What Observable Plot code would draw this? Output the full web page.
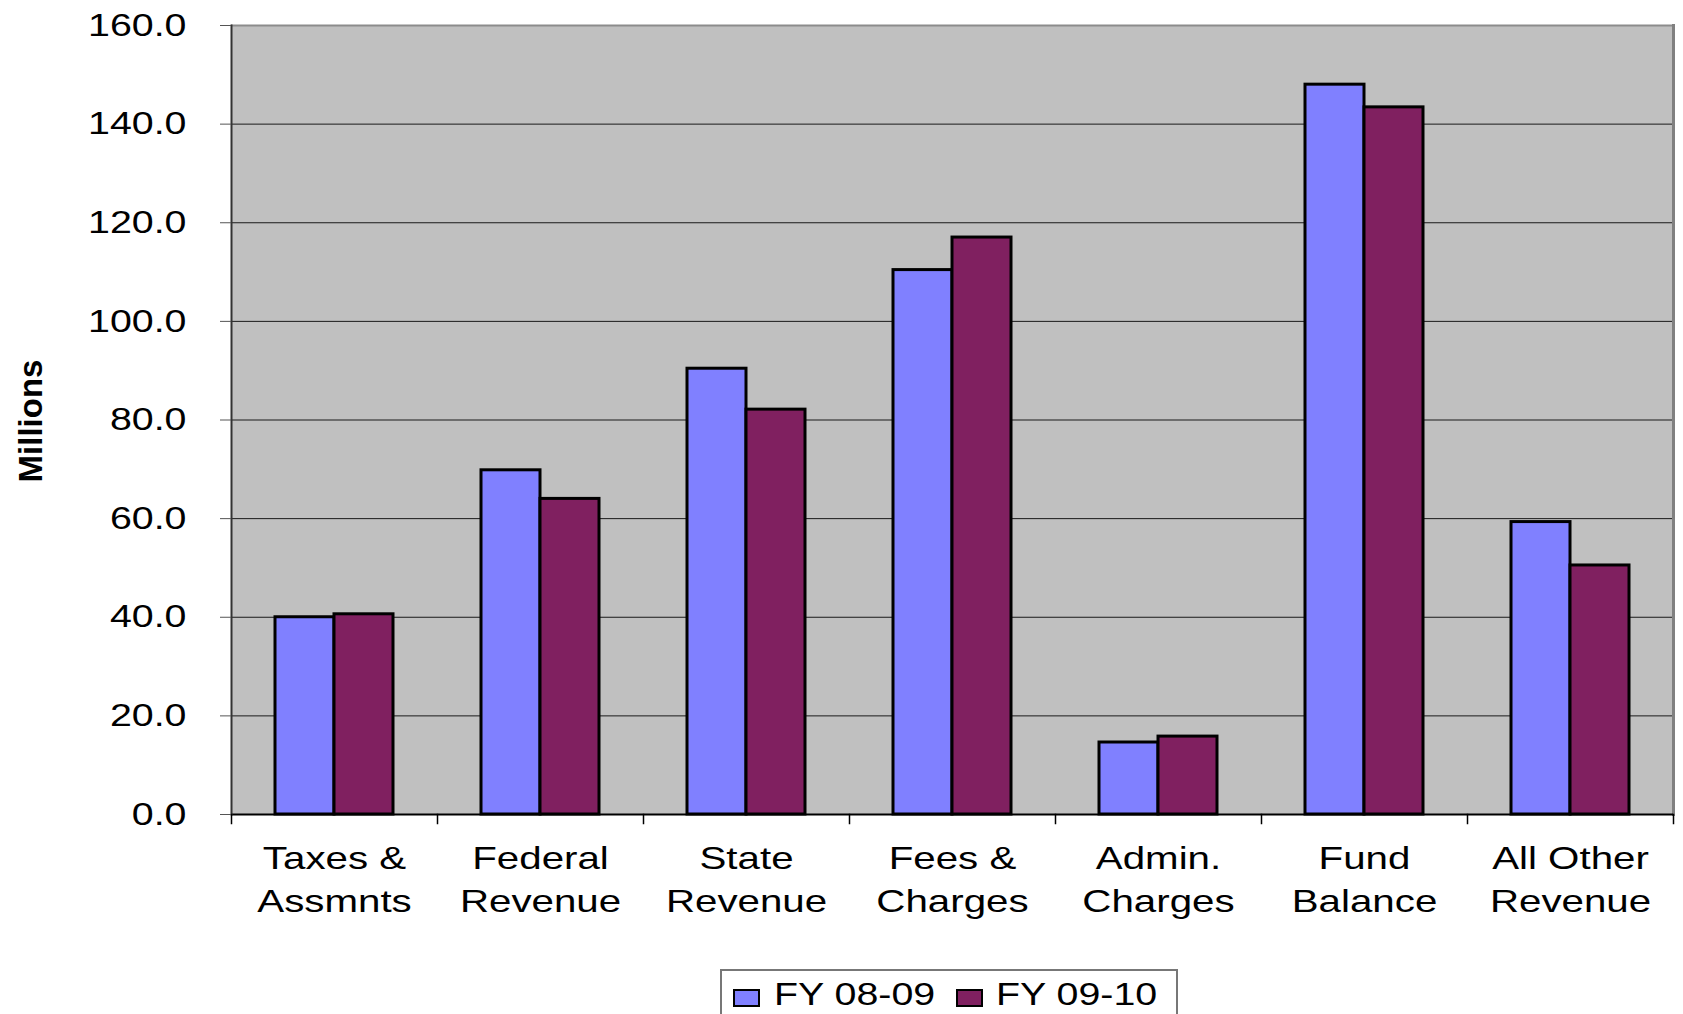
<!DOCTYPE html>
<html><head><meta charset="utf-8">
<script src="https://cdn.jsdelivr.net/npm/d3@7"></script>
<script src="https://cdn.jsdelivr.net/npm/@observablehq/plot@0.6"></script>
<style>
html,body{margin:0;padding:0;background:#fff;overflow:hidden;width:1683px;height:1014px}
#wrap{position:relative;width:1683px;height:1014px;font-family:"Liberation Sans",Arial,sans-serif;color:#000}
#wrap svg{position:absolute;left:0;top:0}
#ytitle{position:absolute;left:29.5px;top:421px;transform:translate(-50%,-50%) rotate(-90deg);font-weight:bold;font-size:33px;line-height:1;white-space:nowrap}
#legend{position:absolute;left:720px;top:969px;width:454px;height:80px;border:2px solid #777;background:#fff}
#legend .sw{position:absolute;top:18px;width:23px;height:14px;border:2px solid #000}
#legend .lb{position:absolute;top:8px;font-size:31px;line-height:31px;white-space:nowrap;transform:scaleX(1.27);transform-origin:0 0}
</style></head><body><div id="wrap"></div>
<script>
// ---- data ----
const categories = ["Taxes &\nAssmnts", "Federal\nRevenue", "State\nRevenue", "Fees &\nCharges", "Admin.\nCharges", "Fund\nBalance", "All Other\nRevenue"];
const series = ["FY 08-09", "FY 09-10"];
const fy0809 = [40.0, 69.8, 90.4, 110.4, 14.6, 148.0, 59.3];
const fy0910 = [40.6, 64.0, 82.1, 117.0, 15.8, 143.4, 50.5];
const yTicks = [0, 20, 40, 60, 80, 100, 120, 140, 160];
const seriesColors = ["#8080ff", "#802060"];
const yTitle = "Millions";

const data = categories.flatMap((c, i) => [
  {category: c, series: series[0], value: fy0809[i]},
  {category: c, series: series[1], value: fy0910[i]}
]);

// ---- layout ----
const W = 1683, H = 940, mT = 25, mB = 126, mL = 228, mR = 7;
const plotH = H - mT - mB;

const chart = Plot.plot({
  width: W, height: H,
  marginTop: mT, marginBottom: mB, marginLeft: mL, marginRight: mR,
  style: {fontFamily: "Liberation Sans, Arial, sans-serif", background: "transparent", color: "#000", overflow: "visible"},
  fx: {domain: categories, padding: 0},
  x: {domain: series, paddingInner: 0, paddingOuter: 0.725, axis: null},
  y: {domain: [0, 160]},
  color: {domain: series, range: seriesColors},
  marks: [
    Plot.frame({fill: "#c0c0c0", insetLeft: -0.5, insetRight: -0.5}),
    Plot.gridY(yTicks, {stroke: "#1a1a1a", strokeOpacity: 1, strokeWidth: 1}),
    Plot.ruleY([160], {stroke: "#8c8c8c", strokeWidth: 2}),
    Plot.frame({anchor: "right", facetAnchor: "right", stroke: "#808080", strokeWidth: 3}),
    Plot.barY(data, {fx: "category", x: "series", y: "value", fill: "series", stroke: "#000", strokeWidth: 3}),
    Plot.ruleY([0], {stroke: "#000", strokeWidth: 2}),
    Plot.frame({anchor: "left", facetAnchor: "left", stroke: "#333", strokeWidth: 2}),
    Plot.frame({anchor: "left", insetTop: plotH, insetBottom: -9, stroke: "#000", strokeWidth: 1.5}),
    Plot.frame({anchor: "right", facetAnchor: "right", insetTop: plotH, insetBottom: -9, stroke: "#000", strokeWidth: 1.5}),
    Plot.axisY(yTicks, {facetAnchor: "left", tickSize: 11, tickPadding: 34, tickFormat: d3.format(".1f"), fontSize: 32, stroke: "#555", fill: "#000", label: null}),
    Plot.axisFx({anchor: "bottom", tickSize: 0, tickPadding: 24, fontSize: 31, lineHeight: 1.38, label: null, fill: "#000"})
  ]
});

// widen tick label glyphs (the reference text is horizontally stretched)
function stretch(sel, S) {
  chart.querySelectorAll(sel).forEach(t => {
    const tr = t.getAttribute("transform");
    if (tr) t.setAttribute("transform", tr + ` scale(${S},1)`);
    else {
      const x = +(t.getAttribute("x") || 0);
      t.setAttribute("transform", `translate(${x},0) scale(${S},1) translate(${-x},0)`);
    }
  });
}
stretch('g[aria-label="y-axis tick label"] text', 1.23);
stretch('g[aria-label="fx-axis tick label"] text', 1.3);

const wrap = document.getElementById("wrap");
wrap.appendChild(chart);

const yt = document.createElement("div");
yt.id = "ytitle";
yt.textContent = yTitle;
wrap.appendChild(yt);

// legend from the chart's color scale
const cs = chart.scale("color");
const legend = document.createElement("div");
legend.id = "legend";
const swLeft = [11, 234], lbLeft = [52, 274];
cs.domain.forEach((s, i) => {
  const sw = document.createElement("div");
  sw.className = "sw";
  sw.style.left = swLeft[i] + "px";
  sw.style.background = cs.range[i];
  legend.appendChild(sw);
  const lb = document.createElement("div");
  lb.className = "lb";
  lb.style.left = lbLeft[i] + "px";
  lb.textContent = s;
  legend.appendChild(lb);
});
wrap.appendChild(legend);
</script>
</body></html>
